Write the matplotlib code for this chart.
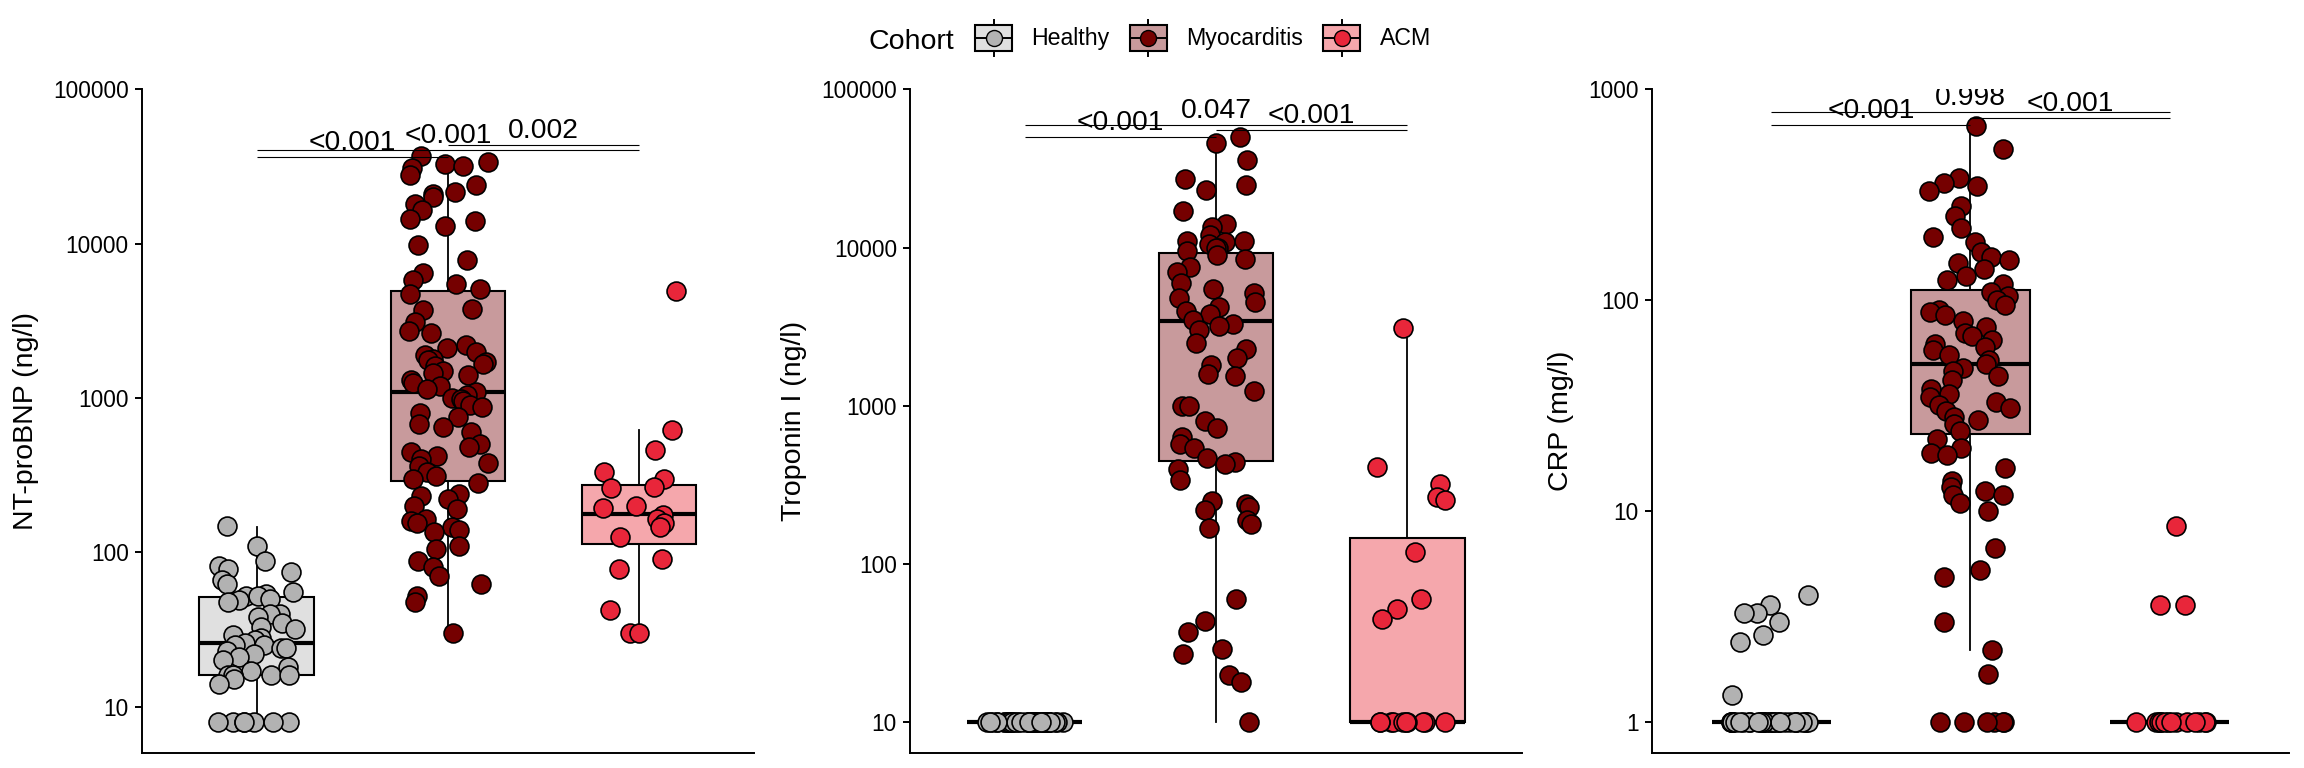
import matplotlib
matplotlib.use("Agg")
import matplotlib.pyplot as plt
from matplotlib.patches import Patch, Rectangle
from matplotlib.lines import Line2D
from matplotlib.legend_handler import HandlerBase
import numpy as np

plt.rcParams['font.family'] = ['Liberation Sans', 'DejaVu Sans']

cohorts = ['Healthy', 'Myocarditis', 'ACM']
box_fill = ['#E0E0E0', '#C89A9C', '#F5A7AC']
point_col = ['#B2B2B2', '#750000', '#E8263A']

# NT-proBNP (ng/l)
nt_healthy = [148, 110, 88, 82, 78, 75, 66, 62, 55, 54, 52, 52, 50, 49, 48, 40, 40, 38,
              35, 33, 32, 29, 28, 27, 26, 25, 25, 24, 24, 23, 22, 21, 20, 18, 17, 16, 16,
              16, 16, 15, 14, 8, 8, 8, 8, 8, 8, 8]
nt_myo = [37000, 34000, 33000, 32000, 31000, 28000, 24000, 21500, 21000, 20000, 18000,
          16500, 14500, 14000, 13000, 9800, 7800, 6500, 5800, 5500, 5100, 4700, 3800, 3700,
          3100, 2700, 2650, 2200, 2100, 2000, 1900, 1800, 1750, 1700, 1650, 1600, 1500, 1450,
          1400, 1300, 1250, 1200, 1150, 1100, 1050, 1000, 980, 950, 900, 870, 800, 750, 680,
          650, 600, 500, 480, 450, 420, 400, 380, 360, 330, 310, 300, 280, 240, 230, 220, 200,
          190, 165, 160, 155, 145, 140, 135, 110, 105, 88, 80, 70, 62, 52, 48, 30]
nt_acm = [4900, 620, 460, 330, 300, 265, 260, 200, 195, 175, 165, 155, 145, 125, 90, 78,
          42, 30, 30]
# box stats: (whislo, q1, med, q3, whishi)
nt_box = [(8, 16, 26, 51, 145), (30, 290, 1100, 4950, 36700), (30, 114, 177, 274, 620)]

# Troponin I (ng/l)
tn_healthy = [10] * 42
tn_myo = [50000, 46000, 36000, 27000, 25000, 23000, 17000, 14000, 13500, 12000, 11000,
          11000, 10800, 10500, 10000, 10000, 9500, 9000, 8500, 7500, 7000, 6000, 5500, 5200,
          4800, 4500, 4200, 4000, 3800, 3500, 3300, 3200, 3000, 2500, 2300, 2000, 1800, 1600,
          1550, 1250, 1000, 1000, 800, 720, 640, 570, 540, 470, 440, 430, 400, 340, 250, 240,
          230, 220, 190, 180, 170, 60, 44, 37, 29, 27, 20, 18, 10]
tn_acm = [3100, 410, 320, 265, 255, 120, 60, 52, 45, 10, 10, 10, 10, 10, 10, 10, 10, 10, 10]
tn_box = [(10, 10, 10, 10, 10), (10, 450, 3440, 9270, 50000), (10, 10, 10, 147, 3100)]

# CRP (mg/l)
crp_healthy = [4.0, 3.6, 3.3, 3.3, 3.0, 2.6, 2.4, 1.35] + [1] * 35
crp_myo = [670, 520, 380, 360, 350, 330, 280, 250, 220, 200, 190, 170, 160, 155, 150, 140,
           130, 125, 120, 110, 105, 100, 95, 90, 88, 85, 80, 75, 70, 68, 65, 62, 60, 58, 55,
           52, 50, 48, 46, 44, 42, 38, 36, 35, 33, 32, 31, 30, 28, 27, 26, 24, 22, 20, 19,
           18.5, 16, 14, 13, 12.5, 12, 12, 11, 10, 6.7, 5.3, 4.9, 3.0, 2.2, 1.7,
           1, 1, 1, 1, 1, 1]
crp_acm = [8.5, 3.6, 3.6] + [1] * 14
crp_box = [(1, 1, 1, 1, 1), (2.2, 23.2, 50, 112.5, 680), (1, 1, 1, 1, 1)]

# pairwise p-values: (group a, group b, bracket height, label)
nt_pvals = [(1, 2, 36600, '<0.001'), (1, 3, 40300, '<0.001'), (2, 3, 43700, '0.002')]
tn_pvals = [(1, 2, 50000, '<0.001'), (1, 3, 59800, '0.047'), (2, 3, 55200, '<0.001')]
crp_pvals = [(1, 2, 680, '<0.001'), (1, 3, 777, '0.998'), (2, 3, 728, '<0.001')]

panels = [
    ('NT-proBNP (ng/l)', [nt_healthy, nt_myo, nt_acm], nt_box, nt_pvals,
     [10, 100, 1000, 10000, 100000], (5.03, 1e5)),
    ('Troponin I (ng/l)', [tn_healthy, tn_myo, tn_acm], tn_box, tn_pvals,
     [10, 100, 1000, 10000, 100000], (6.43, 1e5)),
    ('CRP (mg/l)', [crp_healthy, crp_myo, crp_acm], crp_box, crp_pvals,
     [1, 10, 100, 1000], (0.718, 1000)),
]

fig = plt.figure(figsize=(23.04, 7.68), dpi=100)
ax_rects = [(0.0616, 0.0199, 0.2656, 0.8638),
            (0.3950, 0.0199, 0.2656, 0.8638),
            (0.7170, 0.0199, 0.2765, 0.8638)]

rng = np.random.default_rng(11)

for rect, (ylabel, groups, boxes, pvals, ticks, ylim) in zip(ax_rects, panels):
    ax = fig.add_axes(rect)
    ax.set_yscale('log')

    stats = [dict(whislo=b[0], q1=b[1], med=b[2], q3=b[3], whishi=b[4]) for b in boxes]
    bp = ax.bxp(stats, positions=[1, 2, 3], widths=0.6, patch_artist=True,
                showfliers=False, showcaps=False,
                boxprops=dict(linewidth=1.5, edgecolor='black'),
                whiskerprops=dict(linewidth=1.3, color='black'),
                medianprops=dict(linewidth=3.0, color='black', solid_capstyle='butt'),
                zorder=2)
    for patch, fc in zip(bp['boxes'], box_fill):
        patch.set_facecolor(fc)

    for i, vals in enumerate(groups):
        xs = (i + 1) + rng.uniform(-0.21, 0.21, len(vals))
        ax.scatter(xs, vals, s=185, color=point_col[i], edgecolor='black',
                   linewidth=1.2, zorder=3)

    for a, b, yv, lab in pvals:
        ax.hlines(yv, a, b, color='black', linewidth=0.8, zorder=4)
        ax.annotate(lab, xy=((a + b) / 2, yv), xytext=(0, 5), textcoords='offset points',
                    ha='center', va='baseline', fontsize=20.3, zorder=5,
                    annotation_clip=False, clip_on=True)

    ax.set_xlim(0.4, 3.6)
    ax.set_ylim(*ylim)
    ax.set_yticks(ticks)
    ax.set_yticklabels([str(t) for t in ticks])
    ax.minorticks_off()
    ax.set_xticks([])
    ax.tick_params(axis='y', length=5, width=1.4, pad=4.5, labelsize=16.3)
    ax.set_ylabel(ylabel, fontsize=20.5, labelpad=10)
    for side in ('top', 'right'):
        ax.spines[side].set_visible(False)
    for side in ('left', 'bottom'):
        ax.spines[side].set_linewidth(1.4)


class BoxKey(HandlerBase):
    def create_artists(self, legend, orig_handle, xdescent, ydescent, width, height,
                       fontsize, trans):
        x0, y0 = -xdescent, -ydescent
        cx, cy = x0 + width / 2, y0 + height / 2
        bh = height * 0.69
        vl = Line2D([cx, cx], [y0, y0 + height], color='black', lw=1.4, transform=trans)
        box = Rectangle((x0, cy - bh / 2), width, bh, facecolor=orig_handle.get_facecolor(),
                        edgecolor='black', lw=1.5, transform=trans)
        hl = Line2D([x0, x0 + width], [cy, cy], color='black', lw=1.4, transform=trans)
        pt = Line2D([cx], [cy], marker='o', ms=11.5, mfc=orig_handle.get_edgecolor(),
                    mec='black', mew=1.0, ls='', transform=trans)
        return [vl, box, hl, pt]


handles = [Patch(facecolor=f, edgecolor=p, label=c)
           for f, p, c in zip(box_fill, point_col, cohorts)]
fig.text(868 / 2304, 1 - 49 / 768, 'Cohort', fontsize=20.5, ha='left', va='baseline')
fig.legend(handles=handles, handler_map={Patch: BoxKey()}, loc='center left',
           bbox_to_anchor=(975 / 2304, 1 - 38 / 768), ncol=3, frameon=False,
           fontsize=16.7, handlelength=1.6, handleheight=2.04, handletextpad=0.83,
           columnspacing=0.87, borderpad=0, borderaxespad=0)

fig.savefig('out.png', dpi=100)
